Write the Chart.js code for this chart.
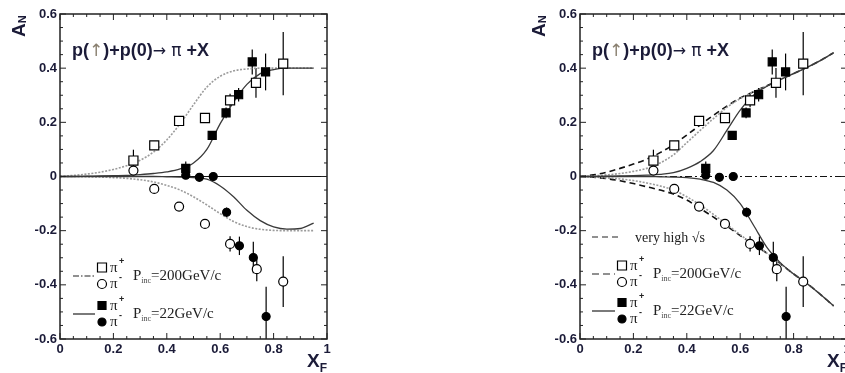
<!DOCTYPE html>
<html>
<head>
<meta charset="utf-8">
<script src="https://cdn.jsdelivr.net/npm/chart.js@4.4.1/dist/chart.umd.min.js"></script>
<style>
  html, body { margin: 0; padding: 0; background: #fff; overflow: hidden; width: 845px; height: 373px; }
  canvas { position: absolute; top: 0; }
  #left { left: 0; }
  #right { left: 520px; }
</style>
</head>
<body>
<canvas id="left" width="340" height="373"></canvas>
<canvas id="right" width="340" height="373"></canvas>
<script>
// axis ticks
const xTickValues = [0, 0.2, 0.4, 0.6, 0.8, 1];
const yTickValues = [-0.6, -0.4, -0.2, 0, 0.2, 0.4, 0.6];

// measured A_N (same points in both panels)
const xPip200 = [0.275, 0.353, 0.446, 0.543, 0.637, 0.734, 0.836];
const yPip200 = [0.059, 0.115, 0.205, 0.216, 0.281, 0.346, 0.417];
const ePip200 = [0.04, 0.015, 0.012, 0.018, 0.025, 0.055, 0.117];

const xPim200 = [0.275, 0.353, 0.446, 0.543, 0.637, 0.737, 0.836];
const yPim200 = [0.022, -0.046, -0.111, -0.175, -0.249, -0.342, -0.388];
const ePim200 = [0.01, 0.01, 0.01, 0.01, 0.028, 0.045, 0.094];

const xPip22 = [0.471, 0.570, 0.622, 0.669, 0.720, 0.770];
const yPip22 = [0.03, 0.152, 0.235, 0.302, 0.423, 0.386];
const ePip22 = [0.025, 0.012, 0.02, 0.025, 0.046, 0.068];

const xPim22 = [0.471, 0.522, 0.574, 0.624, 0.672, 0.724, 0.772];
const yPim22 = [0.005, -0.003, 0.0, -0.132, -0.256, -0.299, -0.517];
const ePim22 = [0.01, 0.006, 0.006, 0.018, 0.034, 0.058, 0.11];

// model curves
const curveX = [0, 0.05, 0.1, 0.15, 0.2, 0.25, 0.3, 0.35, 0.4, 0.45, 0.5, 0.55, 0.6, 0.65, 0.7, 0.75, 0.8, 0.85, 0.9, 0.95];

const leftPip200 = [0, 0.004, 0.009, 0.016, 0.026, 0.04, 0.06, 0.09, 0.135, 0.195, 0.265, 0.33, 0.37, 0.39, 0.397, 0.4, 0.4, 0.4, 0.4, 0.4];
const leftPim200 = [0, 0, -0.001, -0.002, -0.004, -0.007, -0.012, -0.02, -0.033, -0.05, -0.075, -0.105, -0.137, -0.166, -0.185, -0.195, -0.199, -0.2, -0.2, -0.2];
const leftPip22 = [0, 0, 0.001, 0.002, 0.003, 0.004, 0.007, 0.011, 0.017, 0.028, 0.05, 0.1, 0.195, 0.275, 0.34, 0.38, 0.395, 0.4, 0.4, 0.4];
const leftPim22 = [0, 0, 0, 0, 0, 0, 0, 0, -0.001, -0.002, -0.004, -0.01, -0.035, -0.075, -0.125, -0.163, -0.186, -0.194, -0.192, -0.172];

const rightHigh = [0, 0.006, 0.016, 0.03, 0.046, 0.064, 0.088, 0.118, 0.153, 0.19, 0.226, 0.26, 0.29, 0.313, 0.335, 0.358, 0.38, 0.403, 0.428, 0.457];
const rightHighNeg = [0, -0.003, -0.008, -0.016, -0.026, -0.038, -0.05, -0.065, -0.087, -0.118, -0.15, -0.183, -0.218, -0.252, -0.283, -0.322, -0.36, -0.395, -0.435, -0.478];
const rightPip200 = [0, 0.002, 0.006, 0.011, 0.019, 0.03, 0.05, 0.08, 0.125, 0.17, 0.214, 0.255, 0.288, 0.313, 0.335, 0.358, 0.38, 0.403, 0.428, 0.457];
const rightPim200 = [0, -0.002, -0.005, -0.009, -0.015, -0.024, -0.035, -0.05, -0.075, -0.105, -0.14, -0.177, -0.215, -0.252, -0.283, -0.322, -0.36, -0.395, -0.435, -0.478];
const rightPip22 = [0, 0, 0.001, 0.002, 0.003, 0.005, 0.008, 0.014, 0.03, 0.055, 0.096, 0.17, 0.245, 0.3, 0.333, 0.358, 0.38, 0.403, 0.428, 0.457];
const rightPim22 = [0, 0, 0, 0, 0, 0, -0.001, -0.002, -0.004, -0.01, -0.022, -0.05, -0.1, -0.18, -0.262, -0.318, -0.36, -0.395, -0.435, -0.478];

const zeroX = [0, 1];
const zeroY = [0, 0];

const INK = '#1b1b38';
const SANS = '"Liberation Sans", Arial, sans-serif';
const SERIF = '"Liberation Serif", "Times New Roman", serif';

const dotted = { borderColor: '#9c9c9c', borderWidth: 1.6, borderDash: [2, 1.5] };
const solid = { borderColor: '#3a3a3a', borderWidth: 1.3 };
const dashed = { borderColor: '#111', borderWidth: 1.6, borderDash: [6, 4] };

function curve(ys, style) {
  return Object.assign({
    type: 'line',
    data: curveX.map((x, i) => ({ x, y: ys[i] })),
    pointRadius: 0,
    fill: false,
    cubicInterpolationMode: 'monotone'
  }, style);
}

function zeroLine(dash) {
  return {
    type: 'line',
    data: zeroX.map((x, i) => ({ x, y: zeroY[i] })),
    pointRadius: 0,
    borderColor: '#111',
    borderWidth: 1.2,
    borderDash: dash
  };
}

function markers(xs, ys, es, style, filled) {
  let r;
  if (style === 'rect') r = filled ? 5.7 : 6.4;
  else r = filled ? 4 : 4.5;
  return {
    type: 'scatter',
    data: xs.map((x, i) => ({ x, y: ys[i], e: es[i] })),
    pointStyle: style,
    pointRadius: r,
    pointBackgroundColor: filled ? '#000' : '#fff',
    pointBorderColor: '#000',
    pointBorderWidth: 1.2,
    showLine: false,
    errorBars: true
  };
}

function runs(ctx, x, y, list) {
  for (const r of list) {
    ctx.font = r.font;
    ctx.fillStyle = r.color || INK;
    ctx.fillText(r.t, x, y + (r.dy || 0));
    x += ctx.measureText(r.t).width;
  }
  return x;
}

function legendMarker(ctx, kind, cx, cy) {
  ctx.save();
  ctx.lineWidth = 1.2;
  ctx.strokeStyle = '#000';
  ctx.fillStyle = kind.endsWith('Filled') ? '#000' : '#fff';
  ctx.beginPath();
  if (kind.startsWith('rect')) {
    const h = kind === 'rectFilled' ? 4 : 4.5;
    ctx.rect(cx - h, cy - h, 2 * h, 2 * h);
  } else {
    ctx.arc(cx, cy, kind === 'circleFilled' ? 4 : 4.5, 0, Math.PI * 2);
  }
  ctx.fill();
  ctx.stroke();
  ctx.restore();
}

function pi(ctx, x, y, sign) {
  runs(ctx, x, y, [{ t: 'π', font: '15px ' + SERIF, color: '#222' }]);
  runs(ctx, x + 9, y - 8, [{ t: sign, font: 'bold 9px ' + SANS, color: '#222' }]);
}

function pinc(ctx, x, y, rest) {
  runs(ctx, x, y, [
    { t: 'P', font: '15px ' + SERIF, color: '#222' },
    { t: 'inc', font: '8px ' + SERIF, color: '#444', dy: 3 },
    { t: rest, font: '15px ' + SERIF, color: '#222' }
  ]);
}

function legendLine(ctx, x1, x2, y, dash) {
  ctx.save();
  ctx.strokeStyle = '#222';
  ctx.lineWidth = 1.2;
  ctx.setLineDash(dash);
  ctx.beginPath();
  ctx.moveTo(x1, y);
  ctx.lineTo(x2, y);
  ctx.stroke();
  ctx.restore();
}

function deco(legend) {
  return {
    id: 'deco',
    beforeDatasetsDraw(chart) {
      const { ctx, chartArea: a, scales: { x, y } } = chart;
      ctx.save();
      ctx.beginPath();
      ctx.rect(a.left, a.top, a.right - a.left, a.bottom - a.top);
      ctx.clip();
      ctx.strokeStyle = '#000';
      ctx.lineWidth = 1.2;
      chart.data.datasets.forEach(ds => {
        if (!ds.errorBars) return;
        ds.data.forEach(p => {
          const px = x.getPixelForValue(p.x);
          ctx.beginPath();
          ctx.moveTo(px, y.getPixelForValue(p.y - p.e));
          ctx.lineTo(px, y.getPixelForValue(p.y + p.e));
          ctx.stroke();
        });
      });
      ctx.restore();
    },
    afterDraw(chart) {
      const { ctx, chartArea: a, scales: { x, y } } = chart;
      ctx.save();
      // frame
      ctx.strokeStyle = '#222';
      ctx.lineWidth = 1.5;
      ctx.strokeRect(a.left, a.top, a.right - a.left, a.bottom - a.top);
      // inward ticks on all four sides
      ctx.lineWidth = 1;
      ctx.beginPath();
      for (let k = 0; k <= 20; k++) {
        const px = x.getPixelForValue(k * 0.05);
        const len = k % 4 === 0 ? 6 : 3;
        ctx.moveTo(px, a.bottom); ctx.lineTo(px, a.bottom - len);
        ctx.moveTo(px, a.top); ctx.lineTo(px, a.top + len);
      }
      for (let k = -12; k <= 12; k++) {
        const py = y.getPixelForValue(k * 0.05);
        const len = k % 4 === 0 ? 6 : 3;
        ctx.moveTo(a.left, py); ctx.lineTo(a.left + len, py);
        ctx.moveTo(a.right, py); ctx.lineTo(a.right - len, py);
      }
      ctx.stroke();

      // axis titles
      ctx.save();
      ctx.translate(25, 37);
      ctx.rotate(-Math.PI / 2);
      runs(ctx, 0, 0, [
        { t: 'A', font: 'bold 19px ' + SANS },
        { t: 'N', font: 'bold 11px ' + SANS, dy: 1 }
      ]);
      ctx.restore();
      runs(ctx, 307, 367, [
        { t: 'X', font: 'bold 19px ' + SANS },
        { t: 'F', font: 'bold 12px ' + SANS, dy: 5 }
      ]);

      // reaction label
      runs(ctx, 72, 56, [
        { t: 'p(', font: 'bold 18px ' + SANS },
        { t: '↑', font: '17px "DejaVu Sans", sans-serif', color: '#8a8070' },
        { t: ')+p(0)', font: 'bold 18px ' + SANS },
        { t: '→', font: '16px "DejaVu Sans", sans-serif' },
        { t: ' ', font: 'bold 18px ' + SANS },
        { t: 'π', font: '17px "DejaVu Sans", sans-serif' },
        { t: ' +X', font: 'bold 18px ' + SANS }
      ]);

      // legend
      ctx.textBaseline = 'alphabetic';
      legend.forEach(row => {
        if (row.text) {
          legendLine(ctx, row.x1, row.x2, row.y, row.dash);
          runs(ctx, row.tx, row.y + 5, [{ t: row.text, font: '14px ' + SERIF, color: '#222' }]);
          return;
        }
        legendLine(ctx, row.x1, row.x2, row.y, row.dash);
        legendMarker(ctx, row.filled ? 'rectFilled' : 'rect', row.mx, row.y - 8.5);
        legendMarker(ctx, row.filled ? 'circleFilled' : 'circle', row.mx, row.y + 8);
        pi(ctx, row.mx + 8, row.y - 4, '+');
        pi(ctx, row.mx + 8, row.y + 12, '-');
        pinc(ctx, row.tx, row.y + 4, row.label);
      });
      ctx.restore();
    }
  };
}

function makeChart(id, datasets, legend) {
  const tickFont = { family: SANS, size: 13, weight: 'bold' };
  return new Chart(document.getElementById(id), {
    type: 'scatter',
    data: { datasets },
    options: {
      responsive: false,
      animation: false,
      events: [],
      layout: { padding: { left: 0, right: 13, top: 14, bottom: 0 } },
      plugins: { legend: { display: false }, tooltip: { enabled: false } },
      scales: {
        x: {
          type: 'linear', min: 0, max: 1,
          afterBuildTicks: s => { s.ticks = xTickValues.map(v => ({ value: v })); },
          afterFit: s => { s.height = 34; },
          grid: { display: false, drawTicks: false },
          border: { display: false },
          ticks: { color: INK, font: tickFont, padding: 3, maxRotation: 0, autoSkip: false, callback: v => String(v) }
        },
        y: {
          type: 'linear', min: -0.6, max: 0.6,
          afterBuildTicks: s => { s.ticks = yTickValues.map(v => ({ value: v })); },
          afterFit: s => { s.width = 60; },
          grid: { display: false, drawTicks: false },
          border: { display: false },
          ticks: { color: INK, font: tickFont, padding: 3, autoSkip: false, callback: v => String(v) }
        }
      }
    },
    plugins: [deco(legend)]
  });
}

const dataMarks = () => [
  markers(xPip200, yPip200, ePip200, 'rect', false),
  markers(xPim200, yPim200, ePim200, 'circle', false),
  markers(xPip22, yPip22, ePip22, 'rect', true),
  markers(xPim22, yPim22, ePim22, 'circle', true)
];

makeChart('left', [
  ...dataMarks(),
  curve(leftPip22, solid),
  curve(leftPim22, solid),
  curve(leftPip200, dotted),
  curve(leftPim200, dotted),
  zeroLine([])
], [
  { x1: 73, x2: 95, y: 276, dash: [6, 2, 1.5, 2], mx: 102, tx: 133, label: '=200GeV/c', filled: false },
  { x1: 73, x2: 95, y: 314, dash: [], mx: 102, tx: 133, label: '=22GeV/c', filled: true }
]);

makeChart('right', [
  ...dataMarks(),
  curve(rightPip22, solid),
  curve(rightPim22, solid),
  curve(rightPip200, dotted),
  curve(rightPim200, dotted),
  curve(rightHigh, dashed),
  curve(rightHighNeg, dashed),
  zeroLine([7, 3, 2, 3])
], [
  { x1: 72, x2: 102, y: 237, dash: [6, 4], tx: 115, text: 'very high √s' },
  { x1: 72, x2: 95, y: 274, dash: [7, 4], mx: 102, tx: 133, label: '=200GeV/c', filled: false },
  { x1: 72, x2: 95, y: 311, dash: [], mx: 102, tx: 133, label: '=22GeV/c', filled: true }
]);
</script>
</body>
</html>
